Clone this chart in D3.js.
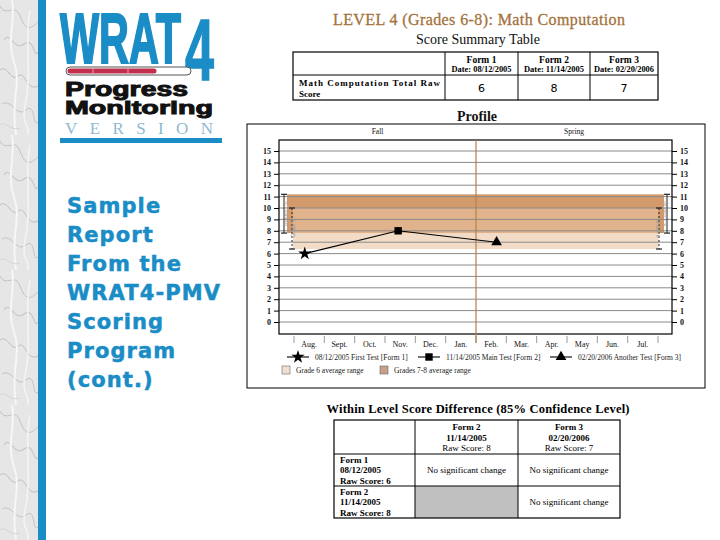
<!DOCTYPE html>
<html>
<head>
<meta charset="utf-8">
<script src="https://cdn.jsdelivr.net/npm/d3@7"></script>
<style>
  html, body { margin: 0; padding: 0; background: #ffffff; }
  svg { display: block; }
</style>
</head>
<body>
<script>
// ---------------- DATA ----------------
const months = ["Aug.", "Sept.", "Oct.", "Nov.", "Dec.", "Jan.", "Feb.", "Mar.", "Apr.", "May", "Jun.", "Jul."];
const seasons = ["Fall", "Spring"];
const seasonStarts = ["Aug.", "Feb."];
const yTicks = [0, 1, 2, 3, 4, 5, 6, 7, 8, 9, 10, 11, 12, 13, 14, 15];

const formNames = ["Form 1", "Form 2", "Form 3"];
const formDates = ["08/12/2005", "11/14/2005", "02/20/2006"];
const testDates = ["2005-08-12", "2005-11-14", "2006-02-20"];
const rawScores = [6, 8, 7];
const testLabels = ["08/12/2005 First Test [Form 1]", "11/14/2005 Main Test [Form 2]", "02/20/2006 Another Test [Form 3]"];

const rangeNames = ["Grade 6 average range", "Grades 7-8 average range"];
const rangeShort = ["Grade 6", "Grades 7-8"];
const rangeLow = [6.4, 7.8];
const rangeHigh = [10, 11.2];

const diffRowForms = [0, 1];
const diffColForms = [1, 2];
const diffResults = [["No significant change", "No significant change"], [null, "No significant change"]];

const sideLines = ["Sample", "Report", "From the", "WRAT4-PMV", "Scoring", "Program", "(cont.)"];

// ---------------- SETUP ----------------
const BLUE = "#1a8cc6";
const SERIF = "'Liberation Serif', 'DejaVu Serif', serif";
const SANS = "'Liberation Sans', Arial, sans-serif";

const svg = d3.select("body").append("svg").attr("width", 720).attr("height", 540);

// marble strip
const defs = svg.append("defs");
const pat = defs.append("pattern").attr("id", "marble").attr("patternUnits", "userSpaceOnUse")
  .attr("width", 38).attr("height", 135);
pat.append("rect").attr("width", 38).attr("height", 135).attr("fill", "#e6e6e6");
[["M0,6 C6,18 15,2 20,16 S30,30 38,22", "#bcbcbc", 0.9],
 ["M4,40 C10,30 14,52 24,44 S34,60 38,52", "#c8c8c8", 1.1],
 ["M0,70 C8,64 10,82 18,76 S26,92 38,86", "#b4b4b4", 0.8],
 ["M2,104 C12,98 16,118 26,110 S32,128 38,122", "#c2c2c2", 1],
 ["M12,0 C16,20 6,40 14,62 S10,100 16,135", "#f7f7f7", 2],
 ["M30,10 C24,40 32,70 26,100 S30,120 28,135", "#f4f4f4", 1.6],
 ["M0,125 C6,120 10,132 20,128", "#cfcfcf", 0.8]].forEach(([d, c, w]) => {
  pat.append("path").attr("d", d).attr("fill", "none").attr("stroke", c).attr("stroke-width", w);
});
svg.append("rect").attr("x", 0).attr("y", 0).attr("width", 38).attr("height", 540).attr("fill", "url(#marble)");
svg.append("rect").attr("x", 38).attr("y", 0).attr("width", 8).attr("height", 540).attr("fill", BLUE);

// ---------------- LOGO ----------------
const logo = svg.append("g");
logo.append("text").attr("x", 60).attr("y", 63).text("WRAT")
  .attr("font-family", SANS).attr("font-weight", "bold").attr("font-size", 70)
  .attr("fill", BLUE).attr("stroke", BLUE).attr("stroke-width", 2)
  .attr("textLength", 121).attr("lengthAdjust", "spacingAndGlyphs");
logo.append("text").attr("x", 185).attr("y", 80).text("4")
  .attr("font-family", SANS).attr("font-weight", "bold").attr("font-size", 88)
  .attr("fill", BLUE).attr("stroke", BLUE).attr("stroke-width", 1.4)
  .attr("textLength", 29).attr("lengthAdjust", "spacingAndGlyphs");
// progress bar
logo.append("rect").attr("x", 66).attr("y", 67).attr("width", 125).attr("height", 8).attr("rx", 4)
  .attr("fill", "#ffffff").attr("stroke", "#555").attr("stroke-width", 1);
logo.append("rect").attr("x", 67.5).attr("y", 68.5).attr("width", 89).attr("height", 5).attr("rx", 2.5)
  .attr("fill", "#c0304d");
[93, 128].forEach(x => logo.append("line").attr("x1", x).attr("x2", x).attr("y1", 68.5).attr("y2", 73.5)
  .attr("stroke", "#e8a0b0").attr("stroke-width", 1));
logo.append("text").attr("x", 65).attr("y", 96).text("Progress")
  .attr("font-family", SANS).attr("font-weight", "bold").attr("font-size", 20)
  .attr("fill", "#111").attr("stroke", "#111").attr("stroke-width", 1)
  .attr("textLength", 123).attr("lengthAdjust", "spacingAndGlyphs");
logo.append("text").attr("x", 65).attr("y", 114).text("Monitoring")
  .attr("font-family", SANS).attr("font-weight", "bold").attr("font-size", 19)
  .attr("fill", "#111").attr("stroke", "#111").attr("stroke-width", 1)
  .attr("textLength", 148).attr("lengthAdjust", "spacingAndGlyphs");
logo.append("text").attr("x", 65).attr("y", 134).text("VERSION")
  .attr("font-family", SERIF).attr("font-size", 17)
  .attr("fill", "#90b9d2")
  .attr("textLength", 148).attr("lengthAdjust", "spacing");
logo.append("rect").attr("x", 60).attr("y", 138).attr("width", 162).attr("height", 5).attr("fill", BLUE);

// side text
svg.append("g").selectAll("text").data(sideLines).join("text")
  .attr("x", 67).attr("y", (d, i) => 213 + i * 29)
  .attr("font-family", "'DejaVu Sans', sans-serif").attr("font-weight", "bold")
  .attr("font-size", 21).attr("letter-spacing", 1.1).attr("fill", BLUE)
  .attr("stroke", BLUE).attr("stroke-width", 0.5).text(d => d);

// ---------------- TITLE + TABLE 1 ----------------
svg.append("text").attr("x", 479).attr("y", 25).attr("text-anchor", "middle")
  .attr("font-family", SERIF).attr("font-size", 16).attr("fill", "#a3733c")
  .attr("stroke", "#a3733c").attr("stroke-width", 0.3)
  .attr("textLength", 292).attr("lengthAdjust", "spacing")
  .text("LEVEL 4 (Grades 6-8): Math Computation");
svg.append("text").attr("x", 478).attr("y", 44).attr("text-anchor", "middle")
  .attr("font-family", SERIF).attr("font-size", 14).attr("fill", "#111")
  .text("Score Summary Table");

const t1 = svg.append("g");
const t1Cols = [293, 445, 518, 590, 658];
const t1Rows = [52, 75, 100];
t1.append("rect").attr("x", t1Cols[0]).attr("y", t1Rows[0]).attr("width", t1Cols[4] - t1Cols[0])
  .attr("height", t1Rows[2] - t1Rows[0]).attr("fill", "none").attr("stroke", "#000").attr("stroke-width", 1.2);
t1Cols.slice(1, 4).forEach(x => t1.append("line").attr("x1", x).attr("x2", x).attr("y1", t1Rows[0]).attr("y2", t1Rows[2]).attr("stroke", "#000"));
t1.append("line").attr("x1", t1Cols[0]).attr("x2", t1Cols[4]).attr("y1", t1Rows[1]).attr("y2", t1Rows[1]).attr("stroke", "#000");
formNames.forEach((f, i) => {
  const cx = (t1Cols[i + 1] + t1Cols[i + 2]) / 2;
  t1.append("text").attr("x", cx).attr("y", 63).attr("text-anchor", "middle")
    .attr("font-family", SERIF).attr("font-weight", "bold").attr("font-size", 9.5).text(f);
  t1.append("text").attr("x", cx).attr("y", 72).attr("text-anchor", "middle")
    .attr("font-family", SERIF).attr("font-size", 8.5).attr("font-weight", "bold")
    .attr("textLength", 60).attr("lengthAdjust", "spacingAndGlyphs").text("Date: " + formDates[i]);
  t1.append("text").attr("x", cx).attr("y", 92).attr("text-anchor", "middle")
    .attr("font-family", "'DejaVu Sans', sans-serif").attr("font-size", 11).text(rawScores[i]);
});
t1.append("text").attr("x", 299).attr("y", 86).attr("font-family", SERIF).attr("font-weight", "bold")
  .attr("font-size", 9).attr("textLength", 141).attr("lengthAdjust", "spacing").text("Math Computation Total Raw");
t1.append("text").attr("x", 299).attr("y", 97).attr("font-family", SERIF).attr("font-weight", "bold")
  .attr("font-size", 9).text("Score");

svg.append("text").attr("x", 477).attr("y", 121).attr("text-anchor", "middle")
  .attr("font-family", SERIF).attr("font-size", 14).attr("font-weight", "bold").attr("fill", "#111").text("Profile");

// ---------------- PROFILE CHART ----------------
const panel = { x: 247, y: 124, w: 458, h: 264 };
svg.append("rect").attr("x", panel.x).attr("y", panel.y).attr("width", panel.w).attr("height", panel.h)
  .attr("fill", "#fff").attr("stroke", "#000").attr("stroke-width", 1);

const plot = { l: 279, r: 672, t: 140, b: 334 };
const xBand = d3.scaleBand().domain(months).range([294, 658]).padding(0);
const bw = xBand.bandwidth();
const yS = d3.scaleLinear().domain([0, 15]).range([322, 151]);

function dateX(s) {
  const [yy, mm, dd] = s.split("-").map(Number);
  const idx = (mm - 8 + 12) % 12;
  const dim = new Date(yy, mm, 0).getDate();
  return xBand(months[idx]) + bw * (dd - 1) / dim;
}

const chart = svg.append("g");
chart.append("rect").attr("x", plot.l).attr("y", plot.t).attr("width", plot.r - plot.l).attr("height", plot.b - plot.t)
  .attr("fill", "#fff");

// average range bands (7-8 first, grade 6 translucent on top)
const x0 = xBand.range()[0], x1 = xBand.range()[1];
const bandX = [[x0 - 1, x1 + 0.5], [x0 - 7, x1 + 6]];
const bandFill = ["#e9c5a3", "#d39a6b"];
const bandOp = [0.6, 1];
[1, 0].forEach(i => {
  chart.append("rect").attr("x", bandX[i][0]).attr("width", bandX[i][1] - bandX[i][0])
    .attr("y", yS(rangeHigh[i])).attr("height", yS(rangeLow[i]) - yS(rangeHigh[i]))
    .attr("fill", bandFill[i]).attr("fill-opacity", bandOp[i]);
});

// gridlines
chart.append("g").selectAll("line").data(yTicks).join("line")
  .attr("x1", plot.l).attr("x2", plot.r).attr("y1", d => yS(d)).attr("y2", d => yS(d))
  .attr("stroke", "#8a8a8a").attr("stroke-width", 1);

// range error bars and rotated labels
const barPos = [[x0 - 2, x1 + 1], [x0 - 10, x1 + 9]];
[0, 1].forEach(i => {
  barPos[i].forEach((bx, side) => {
    const g = chart.append("g");
    g.append("line").attr("x1", bx).attr("x2", bx).attr("y1", yS(rangeHigh[i])).attr("y2", yS(rangeLow[i]))
      .attr("stroke", "#222").attr("stroke-width", 1).attr("stroke-dasharray", i === 0 ? "2,2" : null);
    [rangeHigh[i], rangeLow[i]].forEach(v => g.append("line").attr("x1", bx - 3).attr("x2", bx + 3)
      .attr("y1", yS(v)).attr("y2", yS(v)).attr("stroke", "#222").attr("stroke-width", 1.2));
    const ty = (yS(rangeHigh[i]) + yS(rangeLow[i])) / 2;
    const tx = side === 0 ? bx + 3 : bx - 3;
    g.append("text").attr("transform", `translate(${tx},${ty}) rotate(${side === 0 ? -90 : 90})`)
      .attr("text-anchor", "middle").attr("font-family", SANS).attr("font-size", 5)
      .attr("fill", "#9a9a9a").text(rangeShort[i]);
  });
});

// plot border
chart.append("rect").attr("x", plot.l).attr("y", plot.t).attr("width", plot.r - plot.l).attr("height", plot.b - plot.t)
  .attr("fill", "none").attr("stroke", "#000").attr("stroke-width", 1.2);

// y axes
const axL = chart.append("g").attr("transform", `translate(${plot.l},0)`)
  .call(d3.axisLeft(yS).tickValues(yTicks).tickSize(5).tickPadding(3));
const axR = chart.append("g").attr("transform", `translate(${plot.r},0)`)
  .call(d3.axisRight(yS).tickValues(yTicks).tickSize(5).tickPadding(3));
[axL, axR].forEach(a => {
  a.select(".domain").remove();
  a.selectAll("text").attr("font-family", SERIF).attr("font-size", 8).attr("font-weight", "bold").attr("fill", "#111");
  a.selectAll("line").attr("stroke", "#000");
});

// month ticks & labels
const bounds = months.map(m => xBand(m)).concat([x1]);
chart.append("g").selectAll("line").data(bounds).join("line")
  .attr("x1", d => d).attr("x2", d => d).attr("y1", plot.b + 2).attr("y2", plot.b + 9)
  .attr("stroke", "#999").attr("stroke-width", 1);
chart.append("g").selectAll("text").data(months).join("text")
  .attr("x", d => xBand(d) + bw / 2).attr("y", plot.b + 13).attr("text-anchor", "middle")
  .attr("font-family", SERIF).attr("font-size", 8).attr("fill", "#111").text(d => d);

// season divider & labels
chart.append("line").attr("x1", xBand(seasonStarts[1])).attr("x2", xBand(seasonStarts[1]))
  .attr("y1", plot.t).attr("y2", plot.b + 9).attr("stroke", "#b58049").attr("stroke-width", 1.2);
const seasonCx = [(plot.l + xBand(seasonStarts[1])) / 2, (xBand(seasonStarts[1]) + plot.r) / 2];
seasons.forEach((s, i) => chart.append("text").attr("x", seasonCx[i]).attr("y", 134).attr("text-anchor", "middle")
  .attr("font-family", SERIF).attr("font-size", 7.5).attr("fill", "#111").text(s));

// data line + markers
const pts = testDates.map((d, i) => [dateX(d), yS(rawScores[i])]);
chart.append("path").attr("d", d3.line()(pts)).attr("fill", "none").attr("stroke", "#000").attr("stroke-width", 1.1);
const symTypes = [d3.symbolStar, d3.symbolSquare, d3.symbolTriangle];
const symSizes = [55, 55, 50];
pts.forEach((p, i) => chart.append("path").attr("transform", `translate(${p[0]},${p[1]})`)
  .attr("d", d3.symbol(symTypes[i], symSizes[i])()).attr("fill", "#000"));

// legend
const legX = [287, 418, 550];
testLabels.forEach((t, i) => {
  const g = chart.append("g").attr("transform", `translate(${legX[i]},357)`);
  g.append("line").attr("x1", 0).attr("x2", 22).attr("y1", 0).attr("y2", 0).attr("stroke", "#000").attr("stroke-width", 1.1);
  g.append("path").attr("transform", "translate(11,0)").attr("d", d3.symbol(symTypes[i], symSizes[i])()).attr("fill", "#000");
  g.append("text").attr("x", 28).attr("y", 2.5).attr("font-family", SERIF).attr("font-size", 7.5)
    .attr("fill", "#222").text(t);
});
const swX = [282, 380];
const swFill = ["#f0dfd2", "#c9a08a"];
rangeNames.forEach((t, i) => {
  const g = chart.append("g").attr("transform", `translate(${swX[i]},366)`);
  g.append("rect").attr("width", 8).attr("height", 8).attr("fill", swFill[i]).attr("stroke", "#666").attr("stroke-width", 0.6);
  g.append("text").attr("x", 14).attr("y", 7).attr("font-family", SERIF).attr("font-size", 7.5)
    .attr("fill", "#222").text(t);
});

// ---------------- TABLE 2 ----------------
svg.append("text").attr("x", 478).attr("y", 413).attr("text-anchor", "middle")
  .attr("font-family", SERIF).attr("font-weight", "bold").attr("font-size", 12.5)
  .attr("textLength", 303).attr("lengthAdjust", "spacing")
  .text("Within Level Score Difference (85% Confidence Level)");

const t2 = svg.append("g");
const t2Cols = [334, 415, 518, 620];
const t2Rows = [420, 454, 486, 518];
// gray cell
t2.append("rect").attr("x", t2Cols[1]).attr("y", t2Rows[2]).attr("width", t2Cols[2] - t2Cols[1])
  .attr("height", t2Rows[3] - t2Rows[2]).attr("fill", "#c0c0c0");
t2.append("rect").attr("x", t2Cols[0]).attr("y", t2Rows[0]).attr("width", t2Cols[3] - t2Cols[0])
  .attr("height", t2Rows[3] - t2Rows[0]).attr("fill", "none").attr("stroke", "#000").attr("stroke-width", 1.2);
t2Cols.slice(1, 3).forEach(x => t2.append("line").attr("x1", x).attr("x2", x).attr("y1", t2Rows[0]).attr("y2", t2Rows[3]).attr("stroke", "#000"));
t2Rows.slice(1, 3).forEach(y => t2.append("line").attr("x1", t2Cols[0]).attr("x2", t2Cols[3]).attr("y1", y).attr("y2", y).attr("stroke", "#000"));

diffColForms.forEach((f, j) => {
  const cx = (t2Cols[j + 1] + t2Cols[j + 2]) / 2;
  const lines = [formNames[f], formDates[f], "Raw Score: " + rawScores[f]];
  lines.forEach((l, k) => t2.append("text").attr("x", cx).attr("y", 430 + k * 10.5).attr("text-anchor", "middle")
    .attr("font-family", SERIF).attr("font-size", 9).attr("font-weight", k === 2 ? "normal" : "bold").text(l));
});
diffRowForms.forEach((f, r) => {
  const lines = [formNames[f], formDates[f], "Raw Score: " + rawScores[f]];
  lines.forEach((l, k) => t2.append("text").attr("x", 340).attr("y", t2Rows[r + 1] + 8.5 + k * 10.5)
    .attr("font-family", SERIF).attr("font-size", 9).attr("font-weight", "bold").text(l));
  diffResults[r].forEach((res, j) => {
    if (!res) return;
    const cx = (t2Cols[j + 1] + t2Cols[j + 2]) / 2;
    t2.append("text").attr("x", cx).attr("y", (t2Rows[r + 1] + t2Rows[r + 2]) / 2 + 3).attr("text-anchor", "middle")
      .attr("font-family", SERIF).attr("font-size", 9).text(res);
  });
});
</script>
</body>
</html>
